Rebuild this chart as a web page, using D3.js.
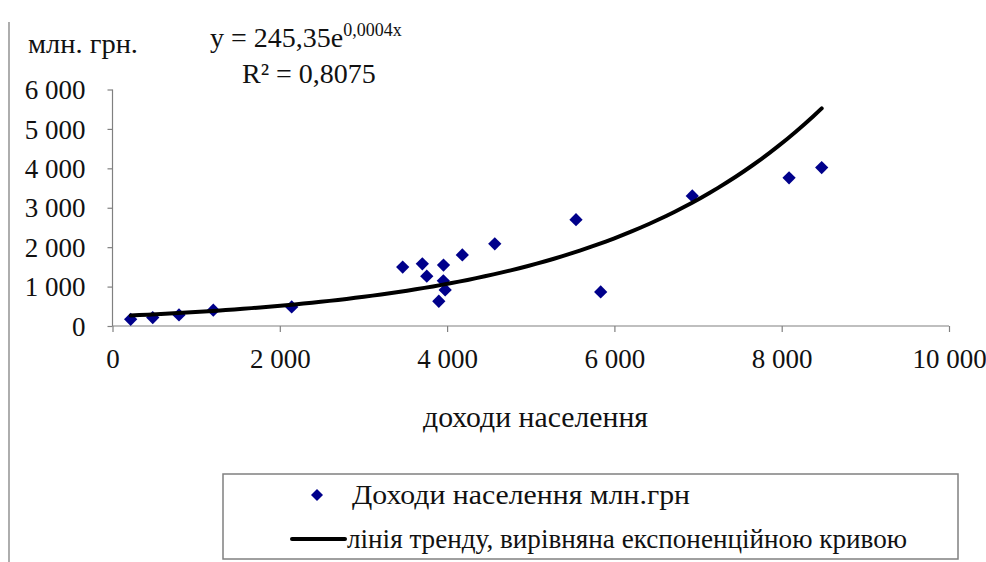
<!DOCTYPE html>
<html lang="uk">
<head>
<meta charset="utf-8">
<script src="https://cdn.jsdelivr.net/npm/d3@7"></script>
<style>
    body { margin: 0; background: #fff; }
</style>
</head>
<body>
<svg id="chart" width="986" height="562"></svg>
<script>
// Доходи населення (x) та млн. грн (y).
var incomeX = [217, 481, 795, 1205, 2142, 3469, 3704, 3757, 3957, 3955,
               3977, 3901, 4182, 4570, 5541, 5836, 6931, 8088, 8478];
var valueY  = [170, 214, 280, 400, 483, 1494, 1578, 1265, 1545, 1145,
               916, 628, 1804, 2084, 2697, 865, 3300, 3758, 4020];

var xTicks = [0, 2000, 4000, 6000, 8000, 10000];
var yTicks = [0, 1000, 2000, 3000, 4000, 5000, 6000];

var equationText = 'y = 245,35e';
var equationSup = '0,0004x';
var r2Text = 'R² = 0,8075';
var yUnitLabel = 'млн. грн.';
var xAxisLabel = 'доходи населення';
var legendLabels = ['Доходи населення млн.грн', 'лінія тренду, вирівняна експоненційною кривою'];

var W = 986, H = 562;
var FONT = 'Liberation Serif';
var CYR_FONT = 'Liberation Serif, Tinos, Noto Serif, DejaVu Serif, serif';
var fmt = function(d) { return d3.format(',')(d).replace(/,/g, ' '); };

var svg = d3.select('#chart');

function label(parent, px, py, size, str, family) {
    return parent.append('text')
        .attr('x', px).attr('y', py)
        .attr('font-family', family || FONT)
        .attr('font-size', size)
        .attr('fill', '#111')
        .text(str);
}

// scan edge on the left
svg.append('line')
    .attr('x1', 9).attr('x2', 9).attr('y1', 22).attr('y2', H)
    .attr('stroke', '#777').attr('stroke-width', 1.2);

var x = d3.scaleLinear().domain([0, 10000]).range([112.5, 949]);
var y = d3.scaleLinear().domain([0, 6000]).range([326, 89.5]);

// Axes.
var xAxis = svg.append('g')
    .attr('transform', 'translate(0,' + y(0) + ')')
    .call(d3.axisBottom(x).tickValues(xTicks).tickSize(6).tickPadding(14).tickFormat(fmt));

var yAxis = svg.append('g')
    .attr('transform', 'translate(' + x(0) + ',0)')
    .call(d3.axisLeft(y).tickValues(yTicks).tickSize(5).tickPadding(22).tickFormat(fmt));

[xAxis, yAxis].forEach(function(g) {
    g.attr('font-family', FONT);
    g.select('.domain').attr('stroke', '#808080').attr('stroke-width', 1.2);
    g.selectAll('.tick line').attr('stroke', '#808080').attr('stroke-width', 1.2);
    g.selectAll('.tick text')
        .attr('font-size', 27)
        .attr('fill', '#111')
        .attr('font-family', FONT);
});
xAxis.select('.domain').attr('d', 'M' + x(0) + ',0H' + x(10000));
yAxis.select('.domain').attr('d', 'M0,' + y(0) + 'V' + y(6000));
xAxis.selectAll('.tick text').attr('dy', '0.8em');
yAxis.selectAll('.tick text').attr('dy', '0.34em');

// Exponential trend fitted on ln(y), as the spreadsheet does.
var pts = incomeX.map(function(v, i) { return [v, valueY[i]]; });
var mx = d3.mean(pts, function(d) { return d[0]; });
var my = d3.mean(pts, function(d) { return Math.log(d[1]); });
var sxy = d3.sum(pts, function(d) { return (d[0] - mx) * (Math.log(d[1]) - my); });
var sxx = d3.sum(pts, function(d) { return (d[0] - mx) * (d[0] - mx); });
var b = sxy / sxx, a = Math.exp(my - b * mx);

var ext = d3.extent(incomeX);
var trend = d3.range(ext[0], ext[1] + 1, (ext[1] - ext[0]) / 80).map(function(v) { return [v, a * Math.exp(b * v)]; });

// Points.
svg.append('g').selectAll('path')
    .data(pts)
  .enter().append('path')
    .attr('d', d3.symbol(d3.symbolSquare, 88))
    .attr('transform', function(d) { return 'translate(' + x(d[0]) + ',' + y(d[1]) + ') rotate(45)'; })
    .attr('fill', '#00008b');

svg.append('path')
    .datum(trend)
    .attr('fill', 'none')
    .attr('stroke', '#000')
    .attr('stroke-width', 4)
    .attr('stroke-linecap', 'round')
    .attr('d', d3.line().x(function(d) { return x(d[0]); }).y(function(d) { return y(d[1]); }));

// Texts.
label(svg, 28, 53, 27, yUnitLabel, CYR_FONT)
    .attr('textLength', 110).attr('lengthAdjust', 'spacingAndGlyphs');

var eq = label(svg, 210, 47, 28, '');
eq.append('tspan').text(equationText);
eq.append('tspan').attr('font-size', 18).attr('dy', -11).text(equationSup);

label(svg, 242, 83, 28, r2Text);

label(svg, 423, 427, 30, xAxisLabel, CYR_FONT)
    .attr('textLength', 225).attr('lengthAdjust', 'spacingAndGlyphs');

// Legend.
var legend = svg.append('g');
legend.append('rect')
    .attr('x', 223).attr('y', 474).attr('width', 735).attr('height', 85)
    .attr('fill', '#fff').attr('stroke', '#808080').attr('stroke-width', 1.5);

legend.append('path')
    .attr('d', d3.symbol(d3.symbolSquare, 72))
    .attr('transform', 'translate(317,495) rotate(45)')
    .attr('fill', '#00008b');
label(legend, 352, 504, 28, legendLabels[0], CYR_FONT)
    .attr('textLength', 338).attr('lengthAdjust', 'spacingAndGlyphs');

legend.append('line')
    .attr('x1', 292).attr('x2', 345).attr('y1', 539).attr('y2', 539)
    .attr('stroke', '#000').attr('stroke-width', 4).attr('stroke-linecap', 'round');
label(legend, 347, 548, 28, legendLabels[1], CYR_FONT)
    .attr('textLength', 560).attr('lengthAdjust', 'spacingAndGlyphs');
</script>
</body>
</html>
